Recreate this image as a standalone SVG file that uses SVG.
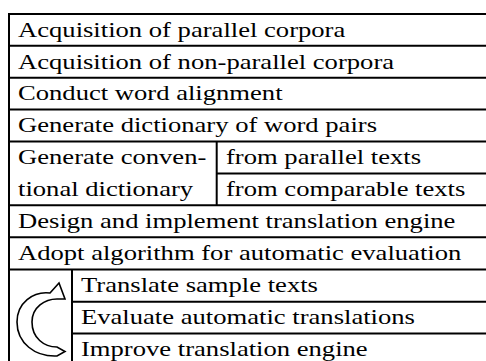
<svg xmlns="http://www.w3.org/2000/svg" width="486" height="361" viewBox="0 0 486 361">
  <style>
    .bg { fill: #ffffff; }
    .ln { stroke: #000000; stroke-width: 2; fill: none; }
    .t { font-family: "Liberation Serif", "Times New Roman", serif; font-size: 22px; fill: #000000; }
    .loop { fill: #ffffff; stroke: #000000; stroke-width: 1.6; stroke-linejoin: miter; }
  </style>
  <rect class="bg" x="0" y="0" width="486" height="361"/>

  <!-- grid of the task table -->
  <g id="connectors">
    <line class="ln" x1="9" y1="13" x2="9" y2="361"/>
    <line class="ln" x1="8" y1="14" x2="486" y2="14"/>
    <line class="ln" x1="8" y1="45.8" x2="486" y2="45.8"/>
    <line class="ln" x1="8" y1="77.7" x2="486" y2="77.7"/>
    <line class="ln" x1="8" y1="109.6" x2="486" y2="109.6"/>
    <line class="ln" x1="8" y1="141.6" x2="486" y2="141.6"/>
    <line class="ln" x1="216.7" y1="173.5" x2="486" y2="173.5"/>
    <line class="ln" x1="216.7" y1="141.6" x2="216.7" y2="205.3"/>
    <line class="ln" x1="8" y1="205.3" x2="486" y2="205.3"/>
    <line class="ln" x1="8" y1="237.2" x2="486" y2="237.2"/>
    <line class="ln" x1="8" y1="269.4" x2="486" y2="269.4"/>
    <line class="ln" x1="72" y1="269.4" x2="72" y2="361"/>
    <line class="ln" x1="72" y1="301.8" x2="486" y2="301.8"/>
    <line class="ln" x1="72" y1="333.6" x2="486" y2="333.6"/>
  </g>

  <g id="row-parallel-corpora">
    <text class="t" transform="translate(18,36.7) scale(1.21,1)">Acquisition of parallel corpora</text>
  </g>
  <g id="row-nonparallel-corpora">
    <text class="t" transform="translate(18,68.5) scale(1.21,1)">Acquisition of non-parallel corpora</text>
  </g>
  <g id="row-word-alignment">
    <text class="t" transform="translate(18,100.4) scale(1.21,1)">Conduct word alignment</text>
  </g>
  <g id="row-word-pairs">
    <text class="t" transform="translate(18,132.3) scale(1.21,1)">Generate dictionary of word pairs</text>
  </g>
  <g id="row-conventional-dictionary">
    <text class="t" transform="translate(18,164.3) scale(1.21,1)">Generate conven-</text>
    <text class="t" transform="translate(18,196.4) scale(1.21,1)">tional dictionary</text>
  </g>
  <g id="row-from-parallel">
    <text class="t" transform="translate(226,164.3) scale(1.21,1)">from parallel texts</text>
  </g>
  <g id="row-from-comparable">
    <text class="t" transform="translate(226,196.4) scale(1.21,1)">from comparable texts</text>
  </g>
  <g id="row-engine">
    <text class="t" transform="translate(18,228) scale(1.21,1)">Design and implement translation engine</text>
  </g>
  <g id="row-evaluation">
    <text class="t" transform="translate(18,259.9) scale(1.21,1)">Adopt algorithm for automatic evaluation</text>
  </g>

  <!-- iteration symbol: outlined curved arrow -->
  <g id="loop-arrow">
    <path class="loop" d="M 50 293 L 59 283 L 65 299 L 57 299
      C 45 299 32 307 32 322
      C 32 338 44 347 57 347
      L 65 351.5 L 57 356
      C 35 357 17 343 17 322
      C 17 303 33 291 50 293 Z"/>
  </g>
  <g id="loop-translate">
    <text class="t" transform="translate(81,292.1) scale(1.21,1)">Translate sample texts</text>
  </g>
  <g id="loop-evaluate">
    <text class="t" transform="translate(81,324.4) scale(1.21,1)">Evaluate automatic translations</text>
  </g>
  <g id="loop-improve">
    <text class="t" transform="translate(81,356.3) scale(1.21,1)">Improve translation engine</text>
  </g>
</svg>
